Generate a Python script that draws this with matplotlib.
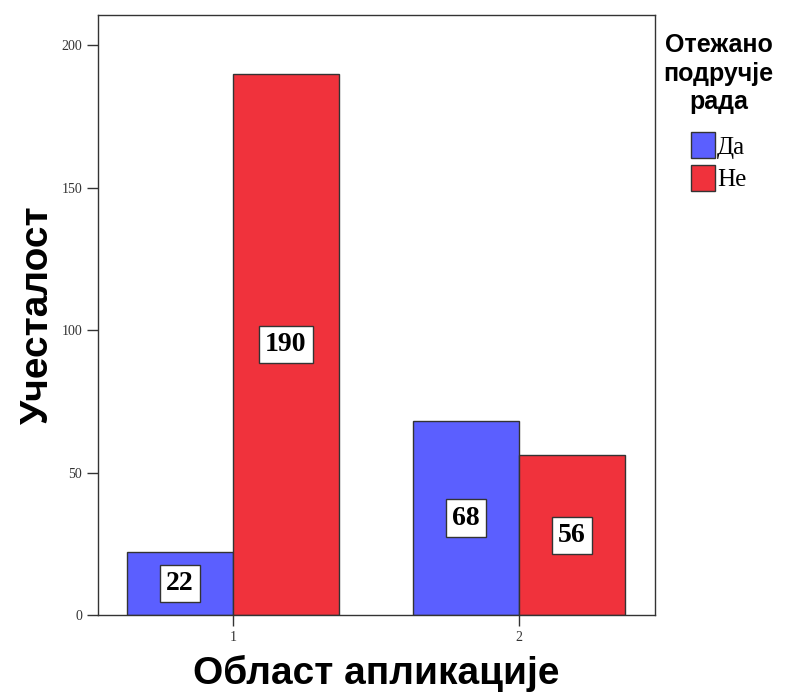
import matplotlib.pyplot as plt
import numpy as np

categories = ['1', '2']
series_names = ['Да', 'Не']
da_values = [22, 68]
ne_values = [190, 56]
yticks = [0, 50, 100, 150, 200]

colors = ['#5b5fff', '#f0323c']

fig = plt.figure(figsize=(7.94, 6.93), dpi=100)
ax = fig.add_axes([0.1234, 0.1126, 0.7016, 0.8654])

x = np.arange(1, len(categories) + 1)
width = 0.37

bars = []
for i, (vals, name) in enumerate(zip([da_values, ne_values], series_names)):
    offset = (i - 0.5) * width
    b = ax.bar(x + offset, vals, width, color=colors[i], edgecolor='#333333',
               linewidth=1.0, label=name)
    bars.append(b)
    for rect, v in zip(b, vals):
        ax.text(rect.get_x() + rect.get_width() / 2, v / 2, str(v),
                ha='center', va='center', fontsize=20, fontweight='bold',
                family='Liberation Serif',
                bbox=dict(boxstyle='square,pad=0.22', facecolor='white',
                          edgecolor='#333333', linewidth=1.0))

ax.set_xlim(0.528, 2.476)
ax.set_ylim(0, 210.5)
ax.set_xticks(x)
ax.set_xticklabels(categories)
ax.set_yticks(yticks)

for spine in ax.spines.values():
    spine.set_color('#333333')
    spine.set_linewidth(1.0)

ax.tick_params(axis='both', direction='out', length=8, width=1, color='#333333',
               labelsize=10, labelcolor='#333333')
for lbl in ax.get_xticklabels() + ax.get_yticklabels():
    lbl.set_family('Liberation Serif')

ax.set_xlabel('Област апликације', fontsize=28, fontweight='bold',
              family='Liberation Sans', labelpad=8)
ax.set_ylabel('Учесталост', fontsize=28, fontweight='bold',
              family='Liberation Sans', labelpad=4)

leg = fig.legend(handles=bars, labels=series_names, loc='upper center',
                 bbox_to_anchor=(0.905, 0.985), frameon=False,
                 title='Отежано\nподручје\nрада',
                 prop={'family': 'Liberation Serif', 'size': 18},
                 handlelength=0.95, handleheight=1.2, handletextpad=0.1,
                 labelspacing=0.25)
leg.get_title().set_fontsize(18)
leg.get_title().set_fontweight('bold')
leg.get_title().set_family('Liberation Sans')
leg.get_title().set_multialignment('center')
leg.get_title().set_linespacing(1.25)
# more room between title and entries
leg._legend_box.sep = 13

fig.savefig('out.png', dpi=100)
